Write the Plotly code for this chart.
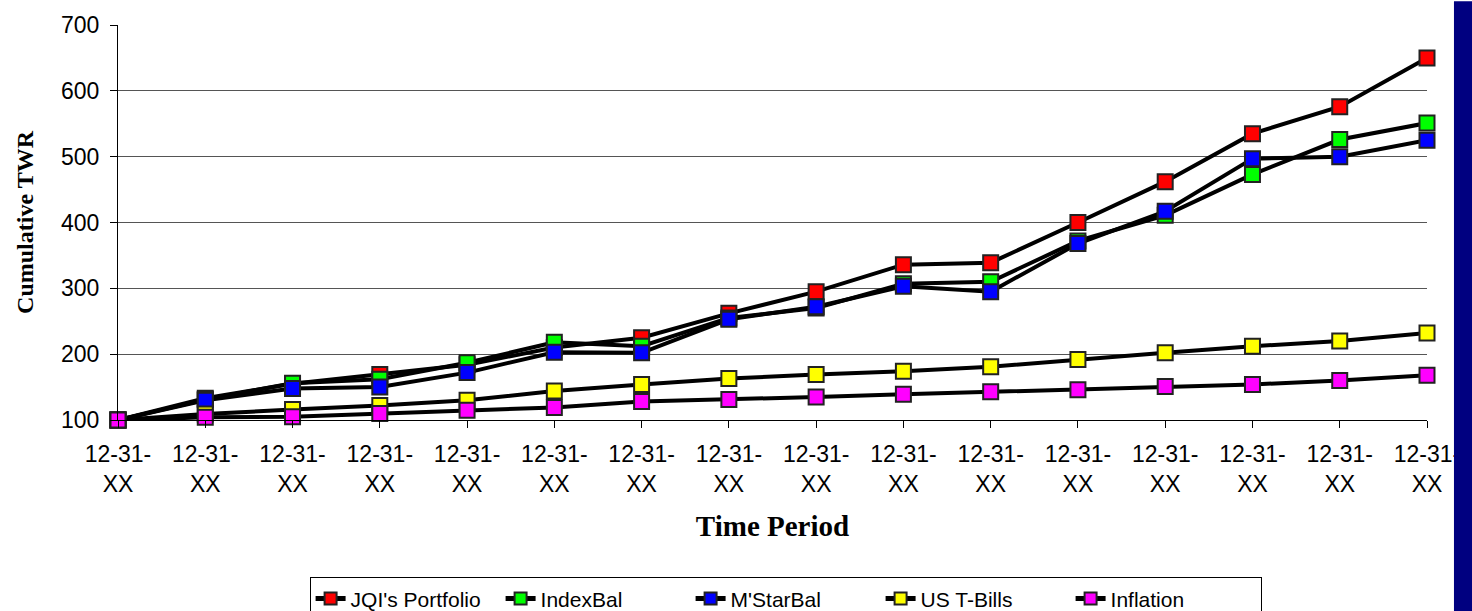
import plotly.graph_objects as go

periods = ["12-31-<br>XX"] * 16
jqi_portfolio = [100, 133, 155, 169, 184, 210, 225, 262, 295, 336, 339, 400, 462, 535, 576, 650]
index_bal = [100, 131, 156, 162, 187, 218, 212, 255, 270, 307, 310, 372, 411, 473, 526, 551]
mstar_bal = [100, 130, 148, 150, 172, 203, 202, 253, 272, 303, 295, 368, 417, 497, 500, 525]
us_tbills = [100, 109, 116, 122, 130, 144, 154, 163, 169, 174, 181, 192, 202, 212, 220, 232]
inflation = [100, 104, 105, 110, 115, 119, 128, 131, 135, 139, 143, 146, 151, 154, 160, 168]

series = [
    ("JQI's Portfolio", jqi_portfolio, "#ff0000"),
    ("IndexBal", index_bal, "#00ff00"),
    ("M'StarBal", mstar_bal, "#0000ff"),
    ("US T-Bills", us_tbills, "#ffff00"),
    ("Inflation", inflation, "#ff00ff"),
]

x = list(range(len(periods)))
serif = "Liberation Serif, Times New Roman, serif"

fig = go.Figure()
for name, vals, color in series:
    fig.add_trace(go.Scatter(
        x=x, y=vals, name=name, mode="lines+markers",
        line=dict(color="black", width=4),
        marker=dict(symbol="square", size=15, color=color,
                    line=dict(color="#222222", width=2)),
        cliponaxis=False,
    ))

fig.update_layout(
    width=1472, height=611,
    margin=dict(l=118, r=42, t=22, b=191),
    plot_bgcolor="white", paper_bgcolor="white",
    font=dict(family="Arial, Liberation Sans, sans-serif", size=23, color="black"),
    showlegend=True,
    legend=dict(
        orientation="h", x=0.51, xanchor="center",
        yref="container", y=0.055, yanchor="top",
        bordercolor="black", borderwidth=1, font=dict(size=21),
        entrywidth=145, itemsizing="constant", tracegroupgap=0,
    ),
    shapes=[dict(
        type="rect", xref="paper", yref="paper", layer="above",
        x0=1.0206, x1=1.04, y0=-0.5, y1=1.06,
        fillcolor="#000080", line=dict(width=0),
    )],
)

fig.update_xaxes(
    range=[0, 15], tickvals=x, ticktext=periods,
    showline=True, linecolor="black", linewidth=1,
    ticks="outside", ticklen=7, tickcolor="black", ticklabelstandoff=6,
    showgrid=False, zeroline=False,
    title=dict(text="<b>Time Period</b>", standoff=20, font=dict(family=serif, size=29)),
)
fig.update_yaxes(
    range=[100, 700], dtick=100,
    showline=True, linecolor="black", linewidth=1,
    ticks="outside", ticklen=7, tickcolor="black", ticklabelstandoff=6,
    showgrid=True, gridcolor="#555555", gridwidth=1, zeroline=False,
    title=dict(text="<b>Cumulative TWR</b>", standoff=20, font=dict(family=serif, size=24)),
)

fig.write_html("out.html", config={"displayModeBar": False},
               post_script="document.body.style.margin='0';")
